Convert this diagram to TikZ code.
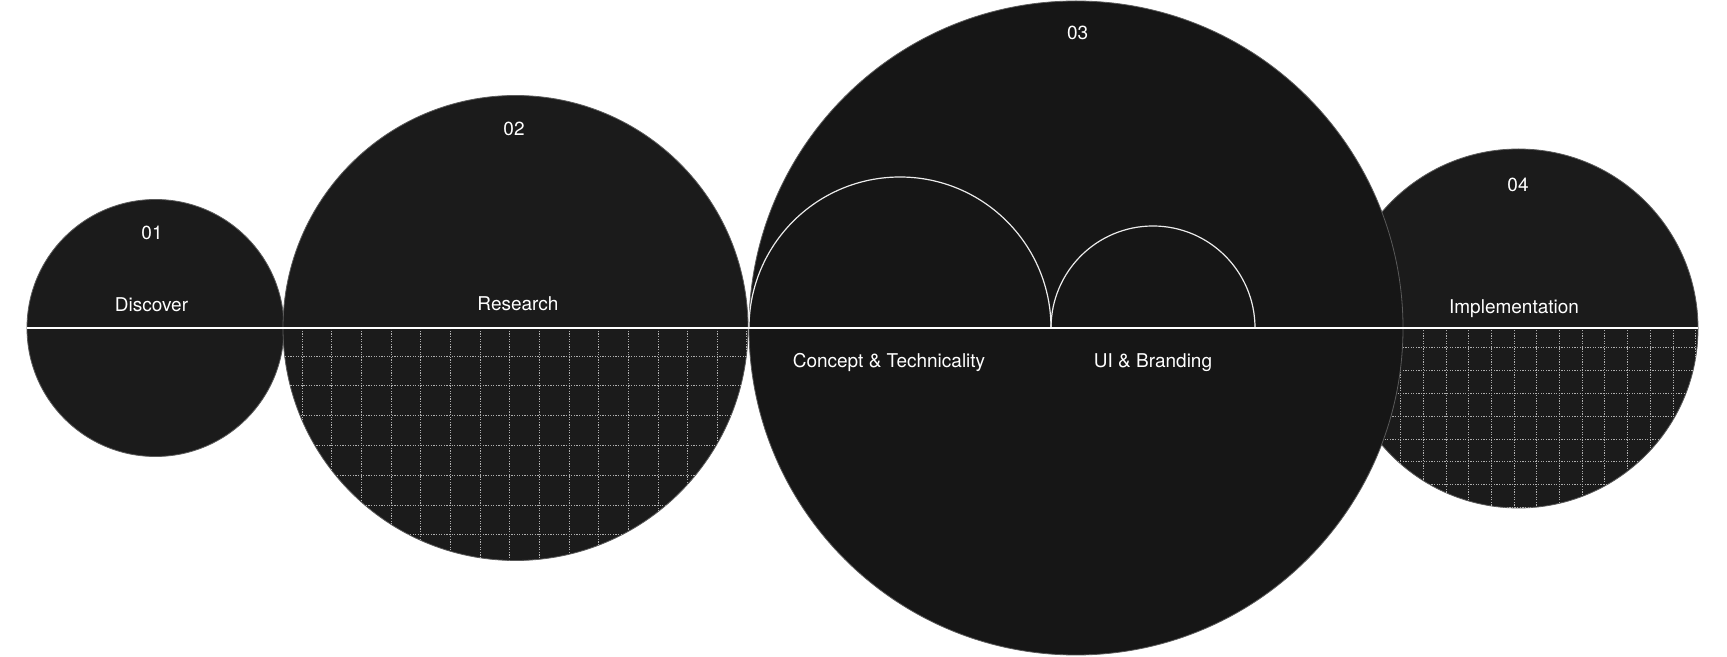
\documentclass[tikz,border=0pt]{standalone}
\usepackage{fontspec}
\setmainfont{TeX Gyre Heros}
\definecolor{discfill}{HTML}{1B1B1B}
\definecolor{discfillb}{HTML}{161616}
\definecolor{rim}{HTML}{5A5A5A}
\definecolor{gridc}{HTML}{ADADAD}
\begin{document}
\begin{tikzpicture}[x=1pt,y=1pt,
  disc/.style={circle, inner sep=0pt, outer sep=0pt, fill=discfill, draw=rim, line width=0.8pt},
  lbl/.style={text=white, font=\fontsize{19}{22}\selectfont, inner sep=0pt, text height=13.6pt, text depth=0pt},
  gridline/.style={gridc, line width=0.9pt, dash pattern=on 1.1pt off 1.5pt},
  divider/.style={white, line width=2.9pt},
  subarc/.style={white!92!black, line width=1.2pt}]
\useasboundingbox (0,0) rectangle (1727,656);
\fill[white] (0,0) rectangle (1727,656);

% 01
\node[disc, minimum size=257pt] (c1) at (155.5,328) {};

% 02 with grid
\node[disc, minimum size=465pt] (c2) at (515.5,328) {};
\begin{scope}
  \clip (515.5,328) circle[radius=232.5];
  \clip (280,0) rectangle (752,328);
  \foreach \i in {0,...,15} \draw[gridline] ({302.3+29.64*\i},90) -- ++(0,240);
  \foreach \j in {0,...,9} \draw[gridline] (280,{329.7-29.8*\j}) -- ++(475,0);
\end{scope}

% 04 with grid
\node[disc, minimum size=359pt] (c4) at (1518.5,327.5) {};
\begin{scope}
  \clip (1518.5,327.5) circle[radius=179.5];
  \clip (1330,0) rectangle (1700,328);
  \foreach \i in {0,...,16} \draw[gridline] ({1332.5+22.7*\i},140) -- ++(0,190);
  \foreach \j in {0,...,9} \draw[gridline] (1330,{331.5-22.9*\j}) -- ++(375,0);
\end{scope}

% 03
\node[disc, fill=discfillb, minimum size=654pt] (c3) at (1076,328) {};
\coordinate (a1) at (749,328);
\coordinate (a2) at (1051,328);
\draw[subarc] (a1) arc[start angle=180, end angle=0, radius=151];
\draw[subarc] (a2) arc[start angle=180, end angle=0, radius=102];

% divider line
\draw[divider] (c1.west) -- (c1.west -| c4.east);

% labels
\node[lbl] (n01) at (152,423.3) {01};
\node[lbl] (t1) at (151.5,351.7) {Discover};
\node[lbl] (n02) at (514,527) {02};
\node[lbl] (t2) at (518,352) {Research};
\node[lbl] (n03) at (1077.7,623.5) {03};
\node[lbl] (t3a) at (889,295) {Concept \& Technicality};
\node[lbl] (t3b) at (1153,295) {UI \& Branding};
\node[lbl] (n04) at (1518,471.7) {04};
\node[lbl] (t4) at (1514,349.3) {Implementation};
\end{tikzpicture}
\end{document}
